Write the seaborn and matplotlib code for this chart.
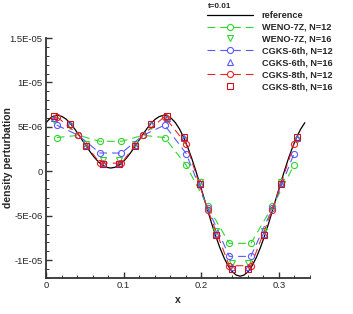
import numpy as np
import pandas as pd
import matplotlib
matplotlib.use("Agg")
import matplotlib.pyplot as plt
import seaborn as sns
from matplotlib.ticker import MultipleLocator, FixedLocator, FixedFormatter

# ---------------- data (values in units of 1e-6) ----------------
ref_x = [k / 192 for k in range(65)]
ref_y = [5.47, 5.96, 6.23, 6.30, 6.16, 5.86, 5.40, 4.83, 4.18, 3.49, 2.80, 2.14, 1.55, 1.05, 0.68, 0.45, 0.37,
         0.45, 0.68, 1.05, 1.55, 2.14, 2.80, 3.49, 4.18, 4.83, 5.40, 5.86, 6.16, 6.30, 6.23, 5.96, 5.47,
         4.77, 3.86, 2.76, 1.51, 0.12, -1.36, -2.89, -4.42, -5.92, -7.32, -8.60, -9.70, -10.60, -11.26, -11.66, -11.80,
         -11.66, -11.26, -10.60, -9.70, -8.60, -7.32, -5.92, -4.42, -2.89, -1.36, 0.12, 1.51, 2.76, 3.86, 4.77, 5.47]

x12 = [(j + 0.5) / 36 for j in range(12)]
weno12 = [3.80, 4.05, 3.38, 3.38, 4.05, 3.80, 0.68, -3.95, -8.10, -8.10, -3.95, 0.68]
cgks6_12 = [5.20, 4.05, 2.06, 2.06, 4.05, 5.20, 2.00, -4.15, -9.57, -9.57, -4.15, 2.00]
cgks8_12 = [6.15, 4.12, 0.92, 0.92, 4.12, 6.15, 3.06, -4.32, -10.62, -10.62, -4.32, 3.06]

x16 = [(j + 0.5) / 48 for j in range(16)]
weno16 = [5.75, 5.15, 3.05, 1.30, 1.30, 3.05, 5.15, 5.75, 3.55, -1.25, -6.70, -10.35, -10.35, -6.70, -1.25, 3.55]
cgks6_16 = [6.05, 5.30, 2.92, 0.95, 0.95, 2.92, 5.30, 6.05, 3.75, -1.35, -7.00, -10.80, -10.80, -7.00, -1.35, 3.75]
cgks8_16 = [6.18, 5.38, 2.84, 0.80, 0.80, 2.84, 5.38, 6.18, 3.82, -1.38, -7.15, -10.95, -10.95, -7.15, -1.38, 3.82]

labels = ["reference", "WENO-7Z, N=12", "WENO-7Z, N=16", "CGKS-6th, N=12",
          "CGKS-6th, N=16", "CGKS-8th, N=12", "CGKS-8th, N=16"]
yticks = [-1e-5, -5e-6, 0, 5e-6, 1e-5, 1.5e-5]
ytick_labels = ["-1E-05", "-5E-06", "0", "5E-06", "1E-05", "1.5E-05"]
xticks = [0, 0.1, 0.2, 0.3]
xtick_labels = ["0", "0.1", "0.2", "0.3"]
title_text = "t=0.01"

# ---------------- style ----------------
sns.set_style("ticks")
plt.rcParams["font.family"] = ["Liberation Sans", "DejaVu Sans"]

GREEN = "#2fd62f"
BLUE = "#5a5aff"
RED = "#e8262a"
DRED = "#d0101a"
DASH = (7, 4.5)

fig = plt.figure(figsize=(3.53, 3.14), dpi=100)
ax = fig.add_axes([46 / 353, 1 - 278 / 314, 264 / 353, 240 / 314])

def s(v):
    return [a * 1e-6 for a in v]

sns.lineplot(x=ref_x, y=s(ref_y), ax=ax, color="black", lw=0.9, label=labels[0], sort=False)

def line12(y, c, lab):
    sns.lineplot(x=x12, y=s(y), ax=ax, color=c, lw=0.8, marker="o", ms=4.4, mfc="none",
                 mec=c, mew=0.8, sort=False, label=lab)
    ax.lines[-1].set_dashes(DASH)

def pts16(y, c, m, lab):
    sns.lineplot(x=x16, y=s(y), ax=ax, color=c, lw=0, ls="none", marker=m, ms=4.2, mfc="none",
                 mec=c, mew=0.8, sort=False, label=lab)

line12(weno12, GREEN, labels[1])
pts16(weno16, GREEN, "v", labels[2])
line12(cgks6_12, BLUE, labels[3])
pts16(cgks6_16, BLUE, "^", labels[4])
line12(cgks8_12, RED, labels[5])
pts16(cgks8_16, DRED, "s", labels[6])

ax.set_xlim(0, 0.34)
ax.set_ylim(-1.2e-5, 1.5e-5)
ax.xaxis.set_major_locator(FixedLocator(xticks))
ax.xaxis.set_major_formatter(FixedFormatter(xtick_labels))
ax.yaxis.set_major_locator(FixedLocator(yticks))
ax.yaxis.set_major_formatter(FixedFormatter(ytick_labels))
ax.xaxis.set_minor_locator(MultipleLocator(0.02))
ax.yaxis.set_minor_locator(MultipleLocator(1e-6))

for side in ("top", "right"):
    ax.spines[side].set_visible(False)
for side in ("left", "bottom"):
    ax.spines[side].set_linewidth(1.3)
    ax.spines[side].set_color("#333333")

ax.tick_params(which="major", direction="in", length=4.5, width=1.0, color="#333333",
               labelsize=6.8, pad=2.5)
ax.tick_params(which="minor", direction="in", length=2.5, width=0.7, color="#333333")

ax.set_xlabel("x", fontsize=7.5, fontweight="bold")
ax.xaxis.set_label_coords(0.5, -(295 - 278) / 240)
ax.set_ylabel("density perturbation", fontsize=7.5, fontweight="bold")
ax.yaxis.set_label_coords(-(46 - 13) / 264, 0.5)

leg = ax.legend(loc="upper left", bbox_to_anchor=(205 / 353, 1 - 9 / 314),
                bbox_transform=fig.transFigure, frameon=False,
                prop={"size": 6.6, "weight": "bold"}, handlelength=5.0,
                handletextpad=1.0, labelspacing=0.32, borderaxespad=0, borderpad=0.2)

fig.text(208 / 353, 1 - 7 / 314, title_text, fontsize=5.8, fontweight="bold", va="center", ha="left")

fig.savefig("out.png", dpi=100)
